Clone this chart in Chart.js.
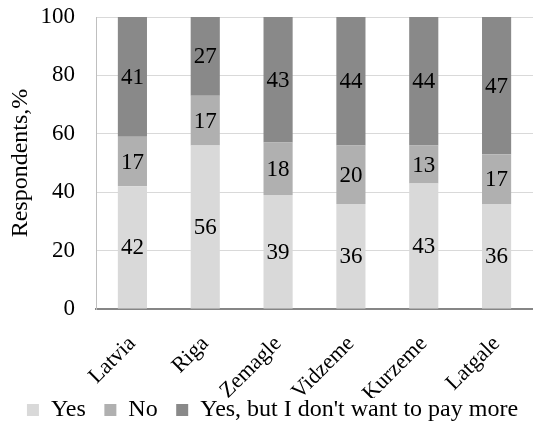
<!DOCTYPE html>
<html>
<head>
<meta charset="utf-8">
<script src="https://cdn.jsdelivr.net/npm/chart.js@4.4.1/dist/chart.umd.min.js"></script>
<style>
html,body{margin:0;padding:0;background:#fff;}
#wrap{width:533px;height:424px;position:relative;}
</style>
</head>
<body>
<div id="wrap"><canvas id="c" width="533" height="424"></canvas></div>
<script>
const categories = ["Latvia", "Riga", "Zemagle", "Vidzeme", "Kurzeme", "Latgale"];
const seriesNames = ["Yes", "No", "Yes, but I don't want to pay more"];
const yesValues = [42, 56, 39, 36, 43, 36];
const noValues = [17, 17, 18, 20, 13, 17];
const yesButValues = [41, 27, 43, 44, 44, 47];
const yTicks = [0, 20, 40, 60, 80, 100];
const yTitle = "Respondents,%";

const FONT = "'Liberation Serif', 'Times New Roman', serif";
const LEGEND_PAD = 18.5;

const labelPlugin = {
  id: 'segLabels',
  afterDatasetsDraw(chart) {
    const ctx = chart.ctx;
    ctx.save();
    ctx.font = "23px " + FONT;
    ctx.fillStyle = "#000";
    ctx.textAlign = "center";
    ctx.textBaseline = "middle";
    chart.data.datasets.forEach((ds, i) => {
      const meta = chart.getDatasetMeta(i);
      meta.data.forEach((el, j) => {
        const p = el.getProps(['x', 'y', 'base'], true);
        ctx.fillText(String(ds.data[j]), p.x, (p.y + p.base) / 2 + 1);
      });
    });
    ctx.restore();
  }
};

const legendShift = {
  id: 'legendShift',
  afterLayout(chart) {
    const lg = chart.legend;
    if (lg) {
      lg.top -= LEGEND_PAD;
      lg.height = lg.bottom - lg.top;
      lg.left += 3;
      lg.right += 3;
    }
  }
};

new Chart(document.getElementById('c'), {
  type: 'bar',
  data: {
    labels: categories,
    datasets: [
      { label: seriesNames[0], data: yesValues, backgroundColor: '#d9d9d9' },
      { label: seriesNames[1], data: noValues, backgroundColor: '#b0b0b0' },
      { label: seriesNames[2], data: yesButValues, backgroundColor: '#898989' }
    ]
  },
  options: {
    responsive: false,
    animation: false,
    devicePixelRatio: 1,
    layout: { padding: { top: 17, right: -6, left: 0, bottom: 0 } },
    datasets: { bar: { categoryPercentage: 1, barPercentage: 0.4 } },
    plugins: {
      legend: {
        position: 'bottom',
        maxHeight: 26,
        labels: {
          font: { family: FONT, size: 24 },
          color: '#000',
          boxWidth: 12,
          boxHeight: 12,
          padding: LEGEND_PAD
        }
      },
      tooltip: { enabled: false }
    },
    scales: {
      x: {
        stacked: true,
        grid: { display: false, drawTicks: false },
        border: { display: true, color: '#868686', width: 2 },
        ticks: {
          font: { family: FONT, size: 22 },
          color: '#000',
          minRotation: 45,
          maxRotation: 45,
          padding: 22,
          autoSkip: false
        },
        afterFit(scale) { scale.height = 89; scale.paddingRight = -6; }
      },
      y: {
        stacked: true,
        min: 0,
        max: 100,
        grid: { color: '#d9d9d9', lineWidth: 1, drawTicks: true, tickLength: 21, tickColor: 'rgba(0,0,0,0)' },
        border: { display: true, color: '#bfbfbf', width: 1 },
        afterBuildTicks(scale) { scale.ticks = yTicks.map(v => ({ value: v })); },
        ticks: {
          font: { family: FONT, size: 23 },
          color: '#000',
          padding: 0
        },
        title: {
          display: true,
          text: yTitle,
          font: { family: FONT, size: 24 },
          color: '#000',
          padding: { top: 6, bottom: 0 }
        },
        afterFit(scale) { scale.width = 96; }
      }
    }
  },
  plugins: [labelPlugin, legendShift]
});
</script>
</body>
</html>
